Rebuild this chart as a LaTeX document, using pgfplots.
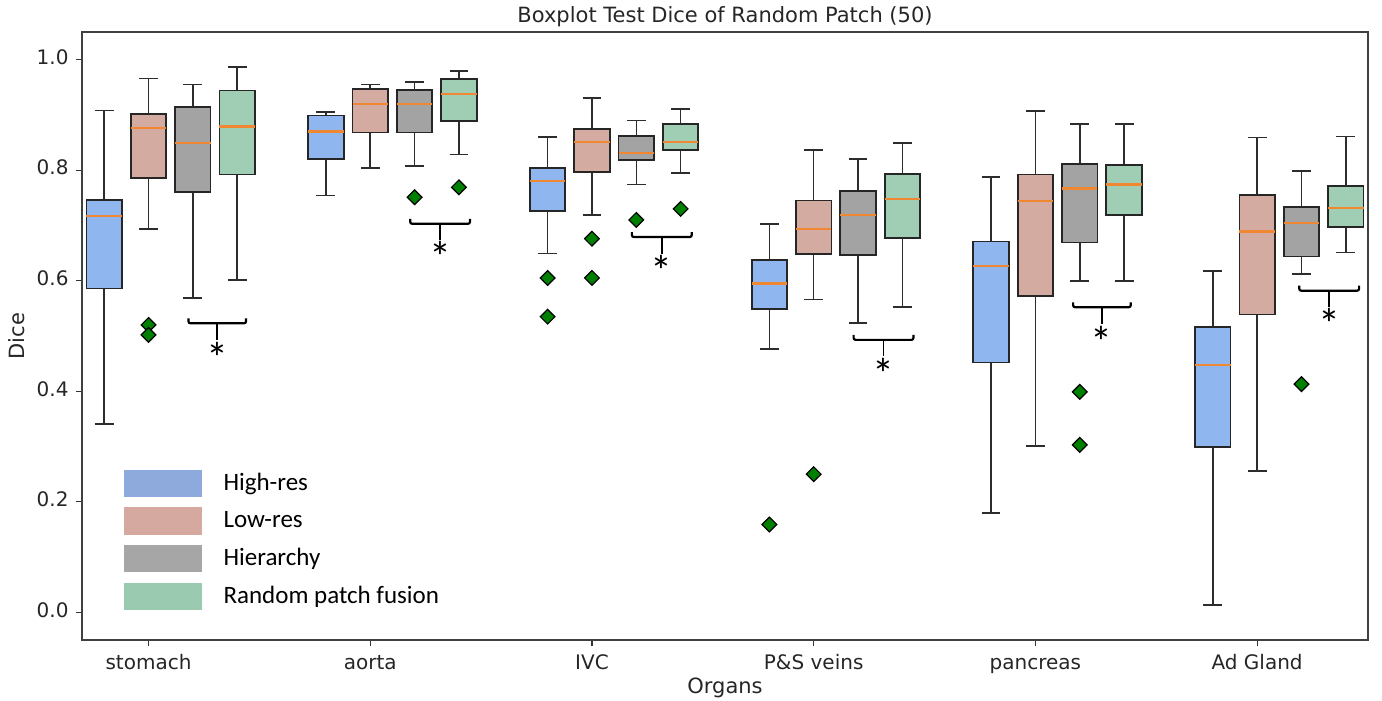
\documentclass[border=0pt]{standalone}
\usepackage{pgfplots}
\pgfplotsset{compat=1.18}
\usepgfplotslibrary{statistics}
\usepackage{fontspec}
\setmainfont{DejaVu Sans}
\newfontfamily\calib{Carlito}

% box fills
\definecolor{hrc}{RGB}{143,182,239}
\definecolor{lrc}{RGB}{212,171,161}
\definecolor{hic}{RGB}{163,163,163}
\definecolor{rpc}{RGB}{160,206,181}
% legend patches
\definecolor{hrl}{RGB}{142,169,219}
\definecolor{lrl}{RGB}{213,169,160}
\definecolor{hil}{RGB}{166,166,166}
\definecolor{rpl}{RGB}{154,203,177}
\definecolor{medc}{RGB}{240,135,50}
\definecolor{outl}{RGB}{0,128,0}
\definecolor{whisk}{RGB}{45,45,45}

\pgfplotsset{
  bpbase/.style={
    draw=black!85, line width=0.9pt,
    mark=square*, mark size=2.6pt,
    mark options={rotate=45, fill=outl, draw=black, line width=0.6pt},
    boxplot/draw direction=y,
    boxplot/box extend=0.16,
    boxplot/whisker extend=0.085,
    boxplot/every whisker/.style={draw=whisk, line width=0.8pt},
    boxplot/every median/.style={draw=medc, line width=1.1pt},
  },
}

% colour, position, lower whisker, lower quartile, median, upper quartile, upper whisker
\newcommand{\bp}[7]{\addplot[bpbase, boxplot/every box/.append style={fill=#1},
  boxplot prepared={draw position=#2, lower whisker=#3, lower quartile=#4,
  median=#5, upper quartile=#6, upper whisker=#7}]}

% bracket: left x, right x, y of bar, y of asterisk
\newcommand{\brk}[4]{%
  \draw[line width=1.1pt, rounded corners=1pt] (axis cs:#1,#3+0.009) -- (axis cs:#1,#3)
    -- (axis cs:#2,#3) -- (axis cs:#2,#3+0.009);
  \draw[line width=0.9pt] (axis cs:{(#1+#2)/2},#3) -- (axis cs:{(#1+#2)/2},#3-0.03);
  \node[anchor=north, inner sep=0pt, font=\calib\fontsize{22}{22}\selectfont]
    at (axis cs:{(#1+#2)/2},#4+0.014) {*};
}

\begin{document}
\begin{tikzpicture}
\begin{axis}[
    scale only axis,
    width=643pt, height=304pt,
    xmin=-0.3, xmax=5.5, ymin=-0.05, ymax=1.05,
    xtick={0,1,2,3,4,5},
    xticklabels={stomach,aorta,IVC,P\&S veins,pancreas,Ad Gland},
    ytick={0,0.2,0.4,0.6,0.8,1.0},
    yticklabel style={/pgf/number format/.cd,fixed,fixed zerofill,precision=1},
    /pgf/number format/assume math mode=true,
    typeset ticklabels with strut,
    xticklabel style={yshift=0.5pt},
    tick pos=left, tick align=outside,
    major tick length=3.2pt,
    tick style={line width=0.6pt, color=black!80},
    axis line style={line width=0.6pt, color=black!75},
    ticklabel style={font=\fontsize{10}{12}\selectfont, color=black!85},
    label style={font=\fontsize{10.5}{12}\selectfont, color=black!85},
    xlabel style={at={(0.5,0)}, anchor=base, yshift=-26.8pt, inner sep=0pt},
    ylabel style={at={(0,0.5)}, anchor=center, yshift=32.5pt, inner sep=0pt},
    title style={font=\fontsize{10.5}{12}\selectfont, color=black!85,
      at={(0.5,1)}, anchor=base, yshift=-1.4pt, inner sep=0pt},
    title={Boxplot Test Dice of Random Patch (50)},
    xlabel={Organs}, ylabel={Dice},
    legend image code/.code={\fill[#1] (0pt,-6.8pt) rectangle (39pt,6.8pt);},
    legend style={at={(0.032,0.049)}, anchor=south west, draw=none, fill=none,
      inner sep=0pt, row sep=5.2pt, column sep=11pt,
      nodes={inner sep=0pt},
      font=\calib\fontsize{12.5}{14}\selectfont},
    legend cell align=left,
]
\addlegendimage{fill=hrl, draw=none}\addlegendentry{High-res}
\addlegendimage{fill=lrl, draw=none}\addlegendentry{Low-res}
\addlegendimage{fill=hil, draw=none}\addlegendentry{Hierarchy}
\addlegendimage{fill=rpl, draw=none}\addlegendentry{Random patch fusion}

% stomach
\bp{hrc}{-0.2}{0.341}{0.586}{0.717}{0.746}{0.908} coordinates {};
\bp{lrc}{0.0}{0.694}{0.786}{0.877}{0.901}{0.966} table[row sep=\\,y index=0] {d\\ 0.520\\ 0.502\\};
\bp{hic}{0.2}{0.569}{0.760}{0.849}{0.915}{0.955} coordinates {};
\bp{rpc}{0.4}{0.601}{0.792}{0.879}{0.944}{0.987} coordinates {};
% aorta
\bp{hrc}{0.8}{0.754}{0.820}{0.870}{0.899}{0.905} coordinates {};
\bp{lrc}{1.0}{0.804}{0.868}{0.920}{0.947}{0.955} coordinates {};
\bp{hic}{1.2}{0.808}{0.868}{0.920}{0.945}{0.959} table[row sep=\\,y index=0] {d\\ 0.751\\};
\bp{rpc}{1.4}{0.828}{0.889}{0.938}{0.965}{0.979} table[row sep=\\,y index=0] {d\\ 0.769\\};
% IVC
\bp{hrc}{1.8}{0.649}{0.726}{0.781}{0.804}{0.860} table[row sep=\\,y index=0] {d\\ 0.605\\ 0.535\\};
\bp{lrc}{2.0}{0.719}{0.797}{0.851}{0.874}{0.931} table[row sep=\\,y index=0] {d\\ 0.676\\ 0.605\\};
\bp{hic}{2.2}{0.774}{0.818}{0.831}{0.862}{0.890} table[row sep=\\,y index=0] {d\\ 0.710\\};
\bp{rpc}{2.4}{0.795}{0.836}{0.851}{0.884}{0.911} table[row sep=\\,y index=0] {d\\ 0.730\\};
% P&S veins
\bp{hrc}{2.8}{0.476}{0.549}{0.595}{0.637}{0.703} table[row sep=\\,y index=0] {d\\ 0.159\\};
\bp{lrc}{3.0}{0.566}{0.648}{0.694}{0.745}{0.836} table[row sep=\\,y index=0] {d\\ 0.250\\};
\bp{hic}{3.2}{0.523}{0.647}{0.719}{0.762}{0.820} coordinates {};
\bp{rpc}{3.4}{0.552}{0.678}{0.748}{0.793}{0.849} coordinates {};
% pancreas
\bp{hrc}{3.8}{0.180}{0.452}{0.626}{0.671}{0.788} coordinates {};
\bp{lrc}{4.0}{0.301}{0.573}{0.744}{0.792}{0.907} coordinates {};
\bp{hic}{4.2}{0.600}{0.669}{0.767}{0.811}{0.884} table[row sep=\\,y index=0] {d\\ 0.399\\ 0.303\\};
\bp{rpc}{4.4}{0.600}{0.719}{0.774}{0.810}{0.884} coordinates {};
% Ad Gland
\bp{hrc}{4.8}{0.013}{0.299}{0.447}{0.516}{0.618} coordinates {};
\bp{lrc}{5.0}{0.256}{0.539}{0.689}{0.755}{0.859} coordinates {};
\bp{hic}{5.2}{0.612}{0.644}{0.705}{0.733}{0.799} table[row sep=\\,y index=0] {d\\ 0.413\\};
\bp{rpc}{5.4}{0.651}{0.697}{0.731}{0.772}{0.861} coordinates {};

% significance brackets
\brk{0.18}{0.44}{0.523}{0.475}
\brk{1.18}{1.45}{0.703}{0.659}
\brk{2.18}{2.45}{0.679}{0.632}
\brk{3.18}{3.45}{0.493}{0.447}
\brk{4.17}{4.43}{0.552}{0.504}
\brk{5.19}{5.46}{0.582}{0.536}
\end{axis}
\path ([shift={(-41pt,-30.5pt)}]current axis.south west) rectangle
      ([shift={(650pt,320pt)}]current axis.south west);
\end{tikzpicture}
\end{document}
